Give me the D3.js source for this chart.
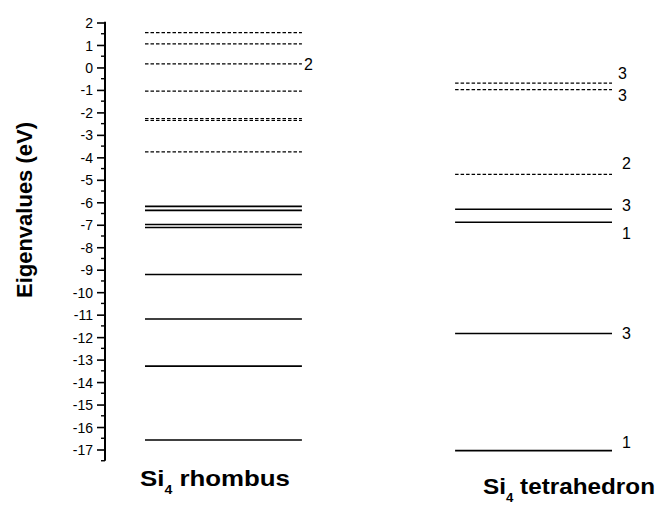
<!DOCTYPE html>
<html>
<head>
<meta charset="utf-8">
<script src="https://cdn.jsdelivr.net/npm/d3@7/dist/d3.min.js"></script>
<style>
  html, body { margin: 0; padding: 0; background: #fff; }
  svg { display: block; }
  text { font-family: "Liberation Sans", Arial, Helvetica, sans-serif; fill: #000; }
</style>
</head>
<body>
<svg id="chart" width="657" height="506"></svg>
<script>
// Eigenvalue spectra (eV) of two Si4 clusters
const structures = ["rhombus", "tetrahedron"];
const rhombusOccupied   = [-6.18, -6.36, -6.99, -7.12, -9.21, -11.19, -13.29, -16.58];
const rhombusVirtual    = [1.55, 1.05, 0.16, -1.05, -2.28, -2.36, -3.76];
const tetraOccupied     = [-6.31, -6.89, -11.84, -17.05];
const tetraVirtual      = [-0.70, -0.99, -4.76];

// degeneracy labels: level value and degeneracy
const rhombusDegeneracy = [{ e: 0.16, n: "2" }];
const tetraDegeneracy   = [
  { e: -0.70, n: "3" }, { e: -0.99, n: "3" }, { e: -4.76, n: "2" },
  { e: -6.31, n: "3" }, { e: -6.89, n: "1" }, { e: -11.84, n: "3" }, { e: -17.05, n: "1" }
];
const tetraLabelShift = [-10, 6, -11, -4, 11, 0, -8];

const yTicks = d3.range(2, -18, -1);

const svg = d3.select("#chart");

const y = d3.scaleLinear().domain([2, -17]).range([22.5, 449.5]);
const x = d3.scaleBand().domain(structures).range([145, 612]).paddingInner(0.494).paddingOuter(0);

// axis
const axisX = 105;
const axis = d3.axisLeft(y).tickValues(yTicks).tickSize(8).tickPadding(4).tickFormat(d => String(d));
const gAxis = svg.append("g").attr("transform", `translate(${axisX},0)`).call(axis);
gAxis.select(".domain").remove();
gAxis.selectAll(".tick line").attr("stroke", "#000").attr("stroke-width", 1.6);
gAxis.selectAll(".tick text").style("font-size", "14px").attr("dy", "0.36em");
// minor ticks at half-units
const minor = d3.range(1.5, -17.6, -1);
svg.append("g").selectAll("line").data(minor).join("line")
  .attr("x1", axisX - 4).attr("x2", axisX)
  .attr("y1", d => y(d)).attr("y2", d => y(d))
  .attr("stroke", "#000").attr("stroke-width", 1.4);
svg.append("line")
  .attr("x1", axisX).attr("x2", axisX)
  .attr("y1", y(2) - 0.8).attr("y2", y(-17.5))
  .attr("stroke", "#000").attr("stroke-width", 2);

// y title
svg.append("text")
  .attr("transform", `translate(32,${(120 + 300) / 2}) rotate(-90)`)
  .attr("text-anchor", "middle")
  .style("font-size", "22px").style("font-weight", "bold")
  .text("Eigenvalues (eV)");

// energy levels
function levels(col, values, dashed) {
  svg.append("g").selectAll("line").data(values).join("line")
    .attr("x1", x(col)).attr("x2", x(col) + x.bandwidth())
    .attr("y1", d => y(d)).attr("y2", d => y(d))
    .attr("stroke", "#000")
    .attr("stroke-width", dashed ? 1.2 : 1.6)
    .attr("stroke-dasharray", dashed ? "3.5,2" : null);
}
levels("rhombus", rhombusVirtual, true);
levels("rhombus", rhombusOccupied, false);
levels("tetrahedron", tetraVirtual, true);
levels("tetrahedron", tetraOccupied, false);

// degeneracy labels
svg.append("g").selectAll("text").data(rhombusDegeneracy).join("text")
  .attr("x", x("rhombus") + x.bandwidth() + 2)
  .attr("y", d => y(d.e))
  .attr("dy", "0.36em")
  .style("font-size", "16px")
  .text(d => d.n);
svg.append("g").selectAll("text").data(tetraDegeneracy).join("text")
  .attr("x", (d, i) => x("tetrahedron") + x.bandwidth() + (i < 2 ? 6 : 10))
  .attr("y", (d, i) => y(d.e) + tetraLabelShift[i])
  .attr("dy", "0.36em")
  .style("font-size", "16px")
  .text(d => d.n);

// structure names
const names = [
  { word: "rhombus", x: 140, y: 486, len: 150 },
  { word: "tetrahedron", x: 483, y: 494, len: 172 }
];
names.forEach(nm => {
  const t = svg.append("text")
    .attr("x", nm.x).attr("y", nm.y)
    .attr("textLength", nm.len).attr("lengthAdjust", "spacingAndGlyphs")
    .style("font-size", "22px").style("font-weight", "bold");
  t.append("tspan").text("Si");
  t.append("tspan").attr("dy", 8).style("font-size", "12px").text("4");
  t.append("tspan").attr("dy", -8).text(" " + nm.word);
});
</script>
</body>
</html>
